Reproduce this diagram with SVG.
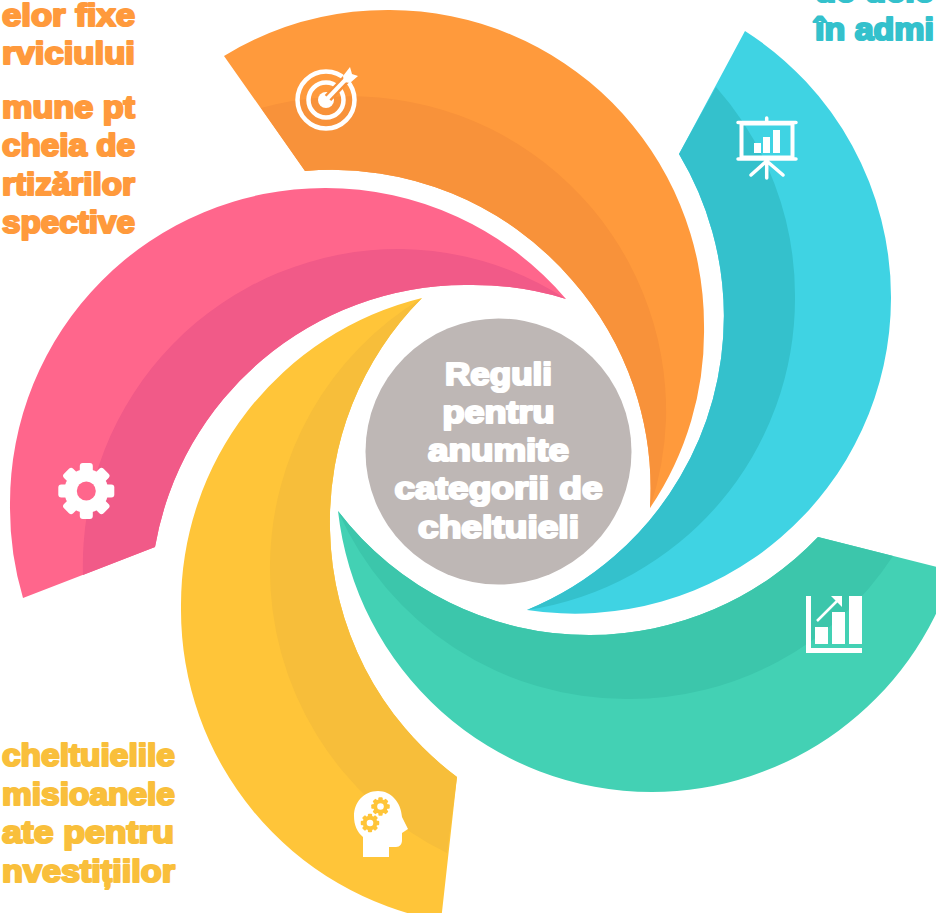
<svg xmlns="http://www.w3.org/2000/svg" width="936" height="913" viewBox="0 0 936 913">
<style>
text{font-family:"Liberation Sans",Arial,sans-serif;font-weight:700;font-size:31px;stroke-linejoin:round;stroke-width:2.2px}
.o{fill:#FF9A3C;stroke:#FF9A3C;text-anchor:end}
.y{fill:#F9BF3B;stroke:#F9BF3B;text-anchor:end}
.b{fill:#34C1CC;stroke:#34C1CC}
.c{fill:#fff;stroke:#fff;text-anchor:middle}
.w{fill:#fff}
.l{stroke:#fff;fill:none;stroke-width:4.5}
</style>
<defs>
<g id="gear">
<circle r="22"/>
<rect x="-6.5" y="-28" width="13" height="56" rx="3"/>
<rect x="-6.5" y="-28" width="13" height="56" rx="3" transform="rotate(45)"/>
<rect x="-6.5" y="-28" width="13" height="56" rx="3" transform="rotate(90)"/>
<rect x="-6.5" y="-28" width="13" height="56" rx="3" transform="rotate(135)"/>
</g>
</defs>
<g id="node-orange">
<path fill="#FF9A3C" d="M224 56A315 315 0 0 1 390 10A315 315 0 0 1 704 325A315 315 0 0 1 650 508A316 316 0 0 0 572 280A316 316 0 0 0 305 171Z"/>
<path fill="#F8923A" d="M261 108A315 315 0 0 1 330 97A315 315 0 0 1 666 420A315 315 0 0 1 650 508A316 316 0 0 0 572 280A316 316 0 0 0 305 171Z"/>
<circle class="l" cx="326" cy="100" r="28.5"/>
<circle class="l" cx="326" cy="100" r="17.5"/>
<circle class="w" cx="326" cy="100" r="8"/>
<path d="M328 98L352 73" stroke="#F8923A" stroke-width="9" fill="none"/>
<path d="M326 100L349 76" stroke="#fff" stroke-width="4" fill="none"/>
<path class="w" d="M343 76L350 67L352 74L358 76L350 83L344 82Z"/>
<g>
<text class="o" x="135" y="26" textLength="133" lengthAdjust="spacingAndGlyphs">elor fixe</text>
<text class="o" x="135" y="64" textLength="133" lengthAdjust="spacingAndGlyphs">rviciului</text>
<text class="o" x="135" y="118" textLength="133" lengthAdjust="spacingAndGlyphs">mune pt</text>
<text class="o" x="135" y="156" textLength="133" lengthAdjust="spacingAndGlyphs">cheia de</text>
<text class="o" x="135" y="195" textLength="133" lengthAdjust="spacingAndGlyphs">rtizărilor</text>
<text class="o" x="135" y="233" textLength="133" lengthAdjust="spacingAndGlyphs">spective</text>
</g>
</g>
<g id="node-blue">
<path fill="#3FD3E3" d="M745 31A316 316 0 0 1 891 298A316 316 0 0 1 527 610A316 316 0 0 0 680 477A316 316 0 0 0 679 154Z"/>
<path fill="#34C1CC" d="M716 87A315 315 0 0 1 795 296A315 315 0 0 1 527 610A316 316 0 0 0 680 477A316 316 0 0 0 679 154Z"/>
<rect x="741.500" y="123.500" width="51" height="34" fill="none" stroke="#fff" stroke-width="4"/>
<path d="M738 122.500H796M738 159H796M766.700 118V122M766.700 159V178M766.700 161L751 175M766.700 161L783 175" stroke="#fff" stroke-width="3.500" stroke-linecap="round" fill="none"/>
<rect class="w" x="754" y="143" width="7" height="10"/>
<rect class="w" x="763" y="137" width="7" height="16"/>
<rect class="w" x="773" y="130" width="7" height="23"/>
<text class="b" x="815" y="2" textLength="119" lengthAdjust="spacingAndGlyphs">de dele</text>
<text class="b" x="815" y="40" textLength="119" lengthAdjust="spacingAndGlyphs">în admi</text>
</g>
<g id="node-green">
<path fill="#43D1B4" d="M818 537L953 571A316 316 0 0 1 652 792A316 316 0 0 1 338 511A316 316 0 0 0 590 635A316 316 0 0 0 818 537Z"/>
<path fill="#3CC6AB" d="M818 537L893 556A315 315 0 0 1 627 699A315 315 0 0 1 338 511A316 316 0 0 0 590 635A316 316 0 0 0 818 537Z"/>
<path class="w" d="M806 596H811V648H862V653H806Z"/>
<rect class="w" x="815" y="627" width="13" height="17"/>
<rect class="w" x="832" y="612" width="13" height="32"/>
<rect class="w" x="849" y="596" width="13" height="48"/>
<path d="M817 621L841 597" stroke="#fff" stroke-width="2.500" fill="none"/>
<path class="w" d="M831 596H842V607Z"/>
</g>
<g id="node-yellow">
<path fill="#FFC539" d="M422 298A316 316 0 0 0 181 608A316 316 0 0 0 441 921L457 777A316 316 0 0 1 330 530A316 316 0 0 1 422 298Z"/>
<path fill="#F7BE3A" d="M422 298A315 315 0 0 0 270 565A315 315 0 0 0 447 853L457 777A316 316 0 0 1 330 530A316 316 0 0 1 422 298Z"/>
<path class="w" d="M363 857H389V847H396C400 847 402 844 402 840V833L408 829L402 817C401 802 391 791 378 791C364 791 354 802 354 816C354 825 357 832 363 837Z"/>
<use href="#gear" transform="translate(380.500 806.500) scale(.33)" fill="#FFC539"/>
<circle class="w" cx="380.500" cy="806.500" r="3.300"/>
<use href="#gear" transform="translate(370 823) scale(.33)" fill="#FFC539"/>
<circle class="w" cx="370" cy="823" r="3.300"/>
<text class="y" x="175" y="766" textLength="173" lengthAdjust="spacingAndGlyphs">cheltuielile</text>
<text class="y" x="175" y="805" textLength="173" lengthAdjust="spacingAndGlyphs">misioanele</text>
<text class="y" x="174" y="843" textLength="172" lengthAdjust="spacingAndGlyphs">ate pentru</text>
<text class="y" x="175" y="882" textLength="173" lengthAdjust="spacingAndGlyphs">nvestițiilor</text>
</g>
<g id="node-pink">
<path fill="#FF668C" d="M23 598A316 316 0 0 1 10 505A315 315 0 0 1 325 188A316 316 0 0 1 566 299A316 316 0 0 0 465 285A316 316 0 0 0 155 547Z"/>
<path fill="#F15A88" d="M83 575A316 316 0 0 1 402 249A316 316 0 0 1 566 299A316 316 0 0 0 465 285A316 316 0 0 0 155 547Z"/>
<use href="#gear" transform="translate(86.300 491)" class="w"/>
<circle cx="86.300" cy="491" r="9.500" fill="#FF668C"/>
</g>
<g id="node-center">
<circle cx="498.500" cy="451.500" r="133" fill="#BEB7B5"/>
<text class="c" x="498.500" y="385" textLength="107" lengthAdjust="spacingAndGlyphs">Reguli</text>
<text class="c" x="498.500" y="423" textLength="112" lengthAdjust="spacingAndGlyphs">pentru</text>
<text class="c" x="498.500" y="461" textLength="141" lengthAdjust="spacingAndGlyphs">anumite</text>
<text class="c" x="498.500" y="499" textLength="208" lengthAdjust="spacingAndGlyphs">categorii de</text>
<text class="c" x="498.500" y="538" textLength="161" lengthAdjust="spacingAndGlyphs">cheltuieli</text>
</g>
</svg>
